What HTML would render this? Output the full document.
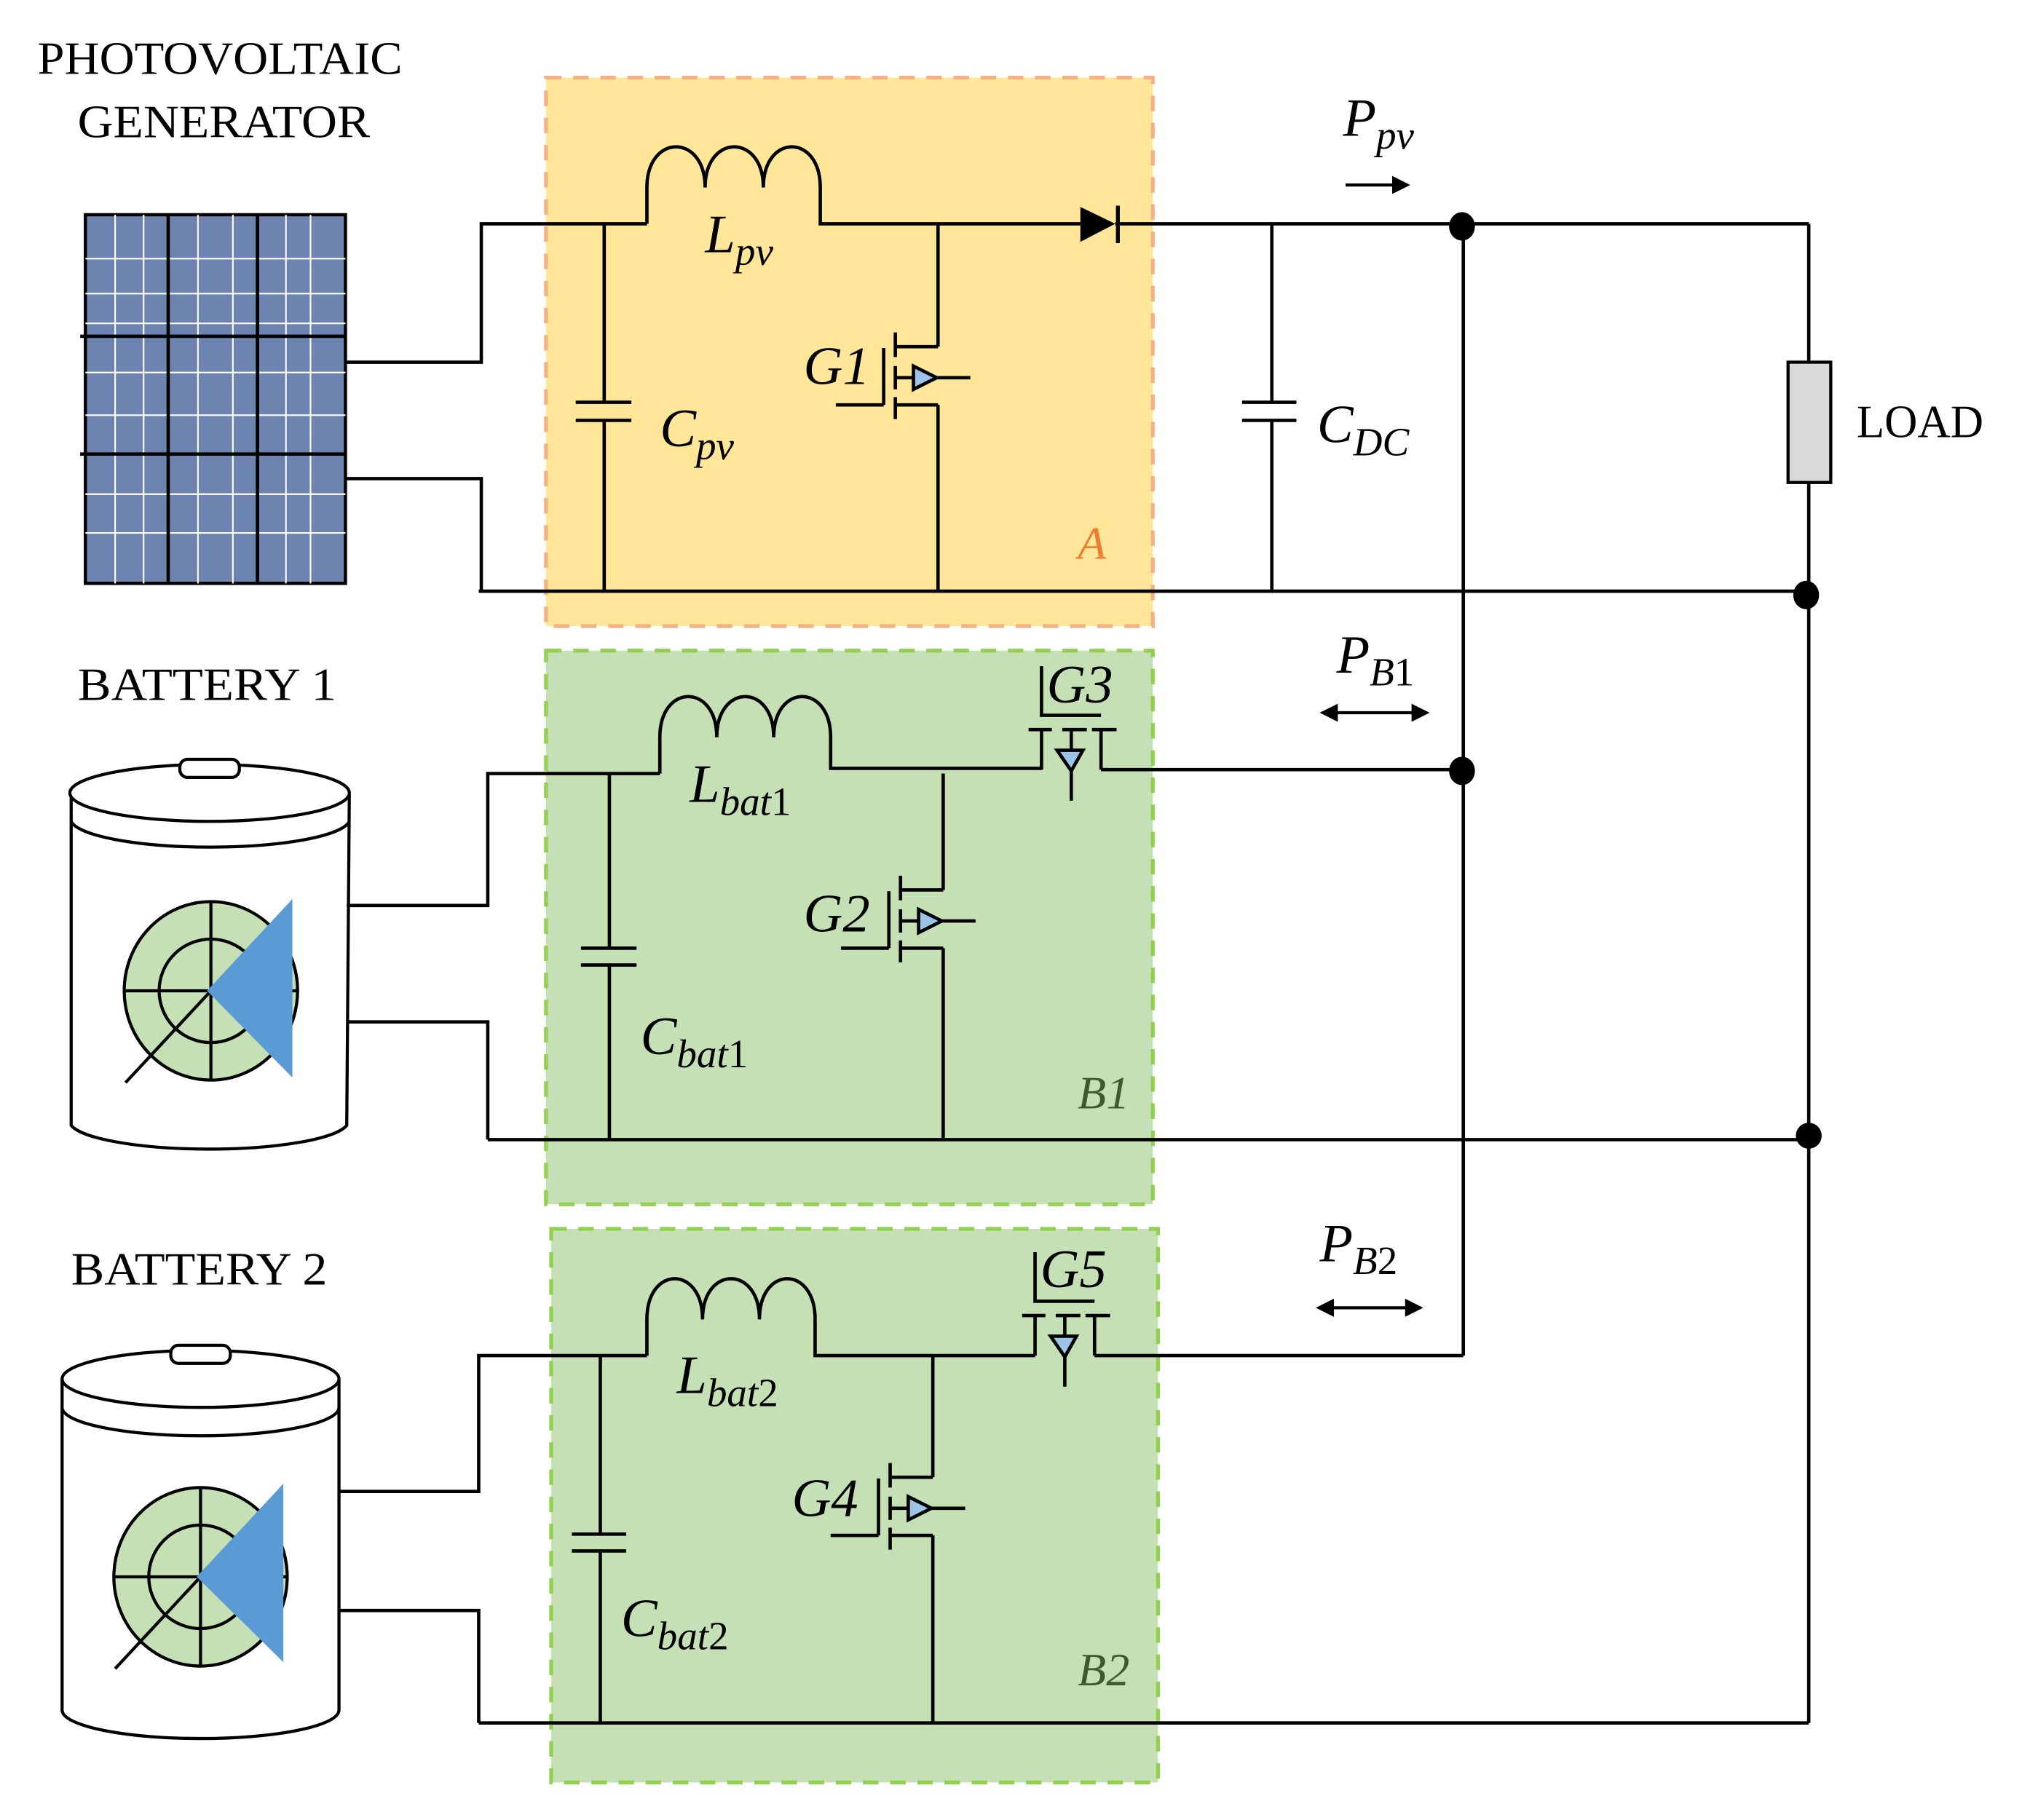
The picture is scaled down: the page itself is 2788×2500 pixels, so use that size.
<!DOCTYPE html>
<html><head><meta charset="utf-8"><style>html,body{margin:0;padding:0;background:#fff}svg{display:block}</style></head>
<body>
<svg width="2788" height="2500" viewBox="0 0 1569 1407" preserveAspectRatio="none" xmlns="http://www.w3.org/2000/svg">
<defs>
<g id="vm" stroke="#000" stroke-width="2.6" fill="none">
<line x1="-33" y1="0" x2="0" y2="0"/>
<line x1="-33" y1="-11" x2="-33" y2="8"/><line x1="-33" y1="15" x2="-33" y2="33"/><line x1="-33" y1="39" x2="-33" y2="56"/>
<line x1="-42" y1="1" x2="-42" y2="45"/><line x1="-79" y1="45" x2="-42" y2="45"/>
<line x1="-33" y1="45" x2="0" y2="45"/>
<line x1="-33" y1="24" x2="-19" y2="24"/>
<polygon points="-19,15 -19,33 -1,24" fill="#9dc3e6"/>
<line x1="-1" y1="24" x2="25" y2="24"/>
</g>
<g id="hm" stroke="#000" stroke-width="2.6" fill="none">
<line x1="0" y1="-31" x2="0" y2="0"/><line x1="-10" y1="-31" x2="8" y2="-31"/>
<line x1="16" y1="-31" x2="35" y2="-31"/><line x1="23" y1="-31" x2="23" y2="-15"/>
<polygon points="12,-15 32,-15 23,1" fill="#9dc3e6"/><line x1="23" y1="1" x2="23" y2="24"/>
<line x1="39" y1="-31" x2="58" y2="-31"/><line x1="46" y1="-31" x2="46" y2="0"/>
<polyline points="0,-80 0,-42 46,-42"/>
</g>
</defs>
<g font-family="Liberation Serif, serif" font-size="36">
<text x="170" y="57" text-anchor="middle" textLength="282" lengthAdjust="spacingAndGlyphs">PHOTOVOLTAIC</text>
<text x="173" y="106" text-anchor="middle" textLength="226" lengthAdjust="spacingAndGlyphs">GENERATOR</text>
<text x="60" y="541" textLength="200" lengthAdjust="spacingAndGlyphs">BATTERY 1</text>
<text x="55" y="993" textLength="198" lengthAdjust="spacingAndGlyphs">BATTERY 2</text>
<text x="1435" y="338" textLength="98" lengthAdjust="spacingAndGlyphs">LOAD</text>
</g>
<rect x="422" y="60" width="469" height="424" fill="#ffe699" stroke="#f4b183" stroke-width="3" stroke-dasharray="12,9"/>
<rect x="422" y="503" width="469" height="428" fill="#c5e0b4" stroke="#92d050" stroke-width="3" stroke-dasharray="12,9"/>
<rect x="426" y="950" width="469" height="428" fill="#c5e0b4" stroke="#92d050" stroke-width="3" stroke-dasharray="12,9"/>
<rect x="66" y="166" width="201" height="285" fill="#6d84b0" stroke="#000" stroke-width="2.5"/>
<g stroke="#fff" stroke-width="1.2">
<line x1="89" y1="166" x2="89" y2="451"/><line x1="111" y1="166" x2="111" y2="451"/><line x1="153" y1="166" x2="153" y2="451"/><line x1="180" y1="166" x2="180" y2="451"/><line x1="221" y1="166" x2="221" y2="451"/><line x1="240" y1="166" x2="240" y2="451"/>
<line x1="66" y1="200" x2="267" y2="200"/><line x1="66" y1="227" x2="267" y2="227"/><line x1="66" y1="250" x2="267" y2="250"/><line x1="66" y1="288" x2="267" y2="288"/><line x1="66" y1="321" x2="267" y2="321"/><line x1="66" y1="382" x2="267" y2="382"/><line x1="66" y1="412" x2="267" y2="412"/>
</g>
<g stroke="#000" stroke-width="2.6">
<line x1="130" y1="166" x2="130" y2="451"/><line x1="199" y1="166" x2="199" y2="451"/>
<line x1="62" y1="260" x2="267" y2="260"/><line x1="62" y1="351" x2="267" y2="351"/>
</g>
<g stroke="#000" stroke-width="2.4" fill="#fff">
<path d="M55 613 L55 870 A108 22 0 0 0 268 870 L270 613"/>
<ellipse cx="162" cy="613" rx="108" ry="22"/>
<path d="M55 635 A108 22 0 0 0 270 635" fill="none"/>
<rect x="139" y="587" width="46" height="14" rx="6"/>
<ellipse cx="163" cy="766" rx="67" ry="69" fill="#c5e0b4"/>
<circle cx="163" cy="766" r="40" fill="none"/>
<line x1="96" y1="766" x2="230" y2="766"/><line x1="163" y1="697" x2="163" y2="835"/>
<line x1="97" y1="837" x2="163" y2="766"/>
<polygon points="160,766 226,695 226,833" fill="#5b9bd5" stroke="none"/>
<path d="M48 1066 L48 1322 A107 22 0 0 0 262 1322 L262 1066"/>
<ellipse cx="155" cy="1066" rx="107" ry="22"/>
<path d="M48 1088 A107 22 0 0 0 262 1088" fill="none"/>
<rect x="132" y="1040" width="46" height="14" rx="6"/>
<ellipse cx="155" cy="1219" rx="67" ry="69" fill="#c5e0b4"/>
<circle cx="155" cy="1219" r="40" fill="none"/>
<line x1="88" y1="1219" x2="222" y2="1219"/><line x1="155" y1="1150" x2="155" y2="1288"/>
<line x1="89" y1="1290" x2="155" y2="1219"/>
<polygon points="152,1219 219,1147 219,1285" fill="#5b9bd5" stroke="none"/>
</g>
<g stroke="#000" stroke-width="2.6" fill="none">
<polyline points="267,280 372,280 372,173 500,173"/>
<polyline points="267,370 372,370 372,457"/>
<line x1="370" y1="457" x2="1398" y2="457"/>
<path d="M500 173 V145 C500 103 545 103 545 145 C545 103 590 103 590 145 C590 103 634 103 634 145 V173 H835"/>
<line x1="862" y1="173" x2="1398" y2="173"/>
<polyline points="467,173 467,311"/><line x1="445" y1="311" x2="488" y2="311"/><line x1="445" y1="325" x2="488" y2="325"/><line x1="467" y1="325" x2="467" y2="457"/>
<line x1="983" y1="173" x2="983" y2="311"/><line x1="960" y1="311" x2="1002" y2="311"/><line x1="960" y1="325" x2="1002" y2="325"/><line x1="983" y1="325" x2="983" y2="457"/>
<line x1="725" y1="173" x2="725" y2="268"/><line x1="725" y1="313" x2="725" y2="457"/>
<line x1="1131" y1="173" x2="1131" y2="1048"/>
<line x1="1398" y1="173" x2="1398" y2="280"/><line x1="1398" y1="373" x2="1398" y2="1332"/>
<polyline points="268,700 377,700 377,598 510,598"/>
<polyline points="268,790 377,790 377,881"/>
<line x1="377" y1="881" x2="1398" y2="881"/>
<path d="M510 598 V570 C510 528 554 528 554 570 C554 528 598 528 598 570 C598 528 642 528 642 570 V594 H805"/>
<line x1="851" y1="595" x2="1131" y2="595"/>
<line x1="471" y1="598" x2="471" y2="733"/><line x1="449" y1="733" x2="492" y2="733"/><line x1="449" y1="746" x2="492" y2="746"/><line x1="471" y1="746" x2="471" y2="881"/>
<line x1="729" y1="598" x2="729" y2="688"/><line x1="729" y1="733" x2="729" y2="881"/>
<polyline points="262,1153 370,1153 370,1048 500,1048"/>
<polyline points="262,1245 370,1245 370,1332"/>
<line x1="370" y1="1332" x2="1398" y2="1332"/>
<path d="M500 1048 V1020 C500 978 543 978 543 1020 C543 978 587 978 587 1020 C587 978 630 978 630 1020 V1048 H800"/>
<line x1="846" y1="1048" x2="1131" y2="1048"/>
<line x1="464" y1="1048" x2="464" y2="1186"/><line x1="442" y1="1186" x2="484" y2="1186"/><line x1="442" y1="1199" x2="484" y2="1199"/><line x1="464" y1="1199" x2="464" y2="1332"/>
<line x1="721" y1="1048" x2="721" y2="1142"/><line x1="721" y1="1187" x2="721" y2="1332"/>
</g>
<polygon points="835,160 835,187 862,173" fill="#000"/>
<line x1="864" y1="159" x2="864" y2="188" stroke="#000" stroke-width="3"/>
<rect x="1382" y="280" width="33" height="93" fill="#d9d9d9" stroke="#000" stroke-width="2.4"/>
<g fill="#000">
<ellipse cx="1130" cy="175" rx="10" ry="11"/><ellipse cx="1130" cy="596" rx="10" ry="11"/>
<ellipse cx="1396" cy="460" rx="10" ry="11"/><ellipse cx="1398" cy="878" rx="10" ry="10"/>
</g>
<use href="#vm" transform="translate(725,268)"/>
<use href="#vm" transform="translate(729,688)"/>
<use href="#vm" transform="translate(721,1142)"/>
<use href="#hm" transform="translate(805,595)"/>
<use href="#hm" transform="translate(800,1048)"/>
<g stroke="#000" stroke-width="2.4">
<line x1="1040" y1="143" x2="1080" y2="143"/>
<line x1="1030" y1="551" x2="1095" y2="551"/>
<line x1="1027" y1="1011" x2="1090" y2="1011"/>
</g>
<g fill="#000">
<polygon points="1090,143 1076,136 1076,150"/>
<polygon points="1105,551 1091,544 1091,558"/><polygon points="1020,551 1034,544 1034,558"/>
<polygon points="1100,1011 1086,1004 1086,1018"/><polygon points="1017,1011 1031,1004 1031,1018"/>
</g>
<g font-family="Liberation Serif, serif" font-style="italic" font-size="42">
<text x="545" y="195">L<tspan font-size="31" dy="10">pv</tspan></text>
<text x="510" y="345">C<tspan font-size="31" dy="10">pv</tspan></text>
<text x="1018" y="342">C<tspan font-size="31" dy="10">DC</tspan></text>
<text x="1038" y="105">P<tspan font-size="31" dy="10">pv</tspan></text>
<text x="1033" y="520">P<tspan font-size="31" dy="10">B<tspan font-style="normal">1</tspan></tspan></text>
<text x="1020" y="975">P<tspan font-size="31" dy="10">B<tspan font-style="normal">2</tspan></tspan></text>
<text x="533" y="620">L<tspan font-size="31" dy="10">bat<tspan font-style="normal">1</tspan></tspan></text>
<text x="495" y="815">C<tspan font-size="31" dy="10">bat<tspan font-style="normal">1</tspan></tspan></text>
<text x="523" y="1077">L<tspan font-size="31" dy="10">bat<tspan font-style="normal">2</tspan></tspan></text>
<text x="480" y="1265">C<tspan font-size="31" dy="10">bat<tspan font-style="normal">2</tspan></tspan></text>
<text x="621" y="297">G1</text>
<text x="621" y="720">G2</text>
<text x="809" y="543">G3</text>
<text x="612" y="1172">G4</text>
<text x="804" y="995">G5</text>
<text x="833" y="432" fill="#ed7d31" font-size="36">A</text>
<text x="833" y="857" fill="#3d5a2a" font-size="36">B1</text>
<text x="833" y="1303" fill="#3d5a2a" font-size="36">B2</text>
</g>
</svg>
</body></html>
